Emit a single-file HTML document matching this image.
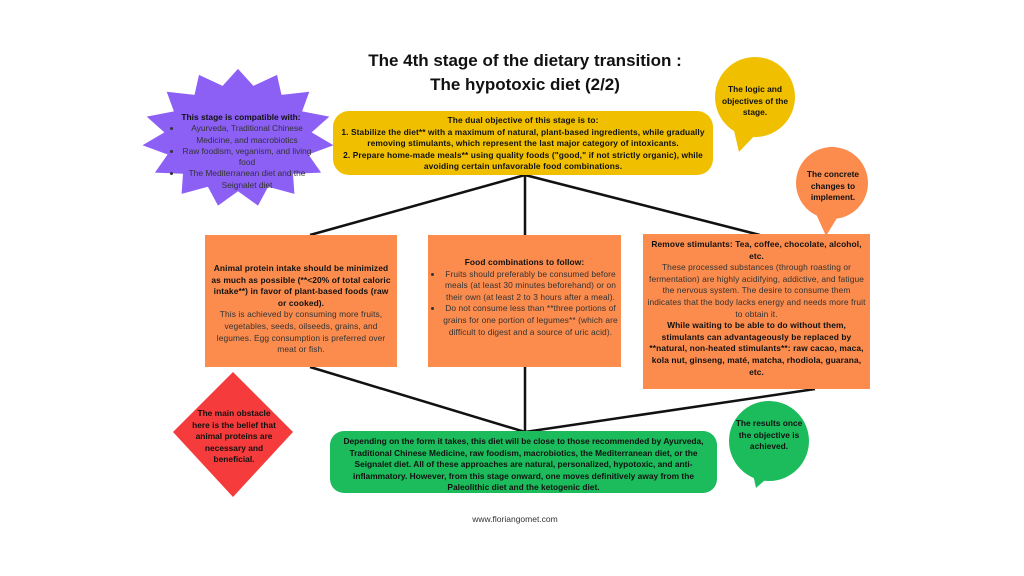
<!DOCTYPE html>
<html><head><meta charset="utf-8"><style>
body{margin:0;width:1024px;height:576px;background:#fff;position:relative;overflow:hidden;font-family:"Liberation Sans",sans-serif;color:#333}
.a{position:absolute;box-sizing:border-box;text-align:center}
.t{font-size:8.4px;line-height:11.6px;letter-spacing:0.1px}
b{color:#111}
ul{margin:0;padding-left:12px;text-align:center}
li{margin:0}
</style></head><body>
<svg class="a" style="left:0;top:0" width="1024" height="576">
<g stroke="#111" stroke-width="2.5" fill="none">
<line x1="525" y1="175" x2="310" y2="235"/><line x1="525" y1="175" x2="525" y2="235"/><line x1="525" y1="175" x2="760" y2="235"/>
<line x1="310" y1="367" x2="525" y2="432"/><line x1="525" y1="367" x2="525" y2="432"/><line x1="815" y1="389" x2="525" y2="432"/>
</g>
<polygon id="star" fill="#8c5ff5" points=""/>
<circle cx="755" cy="97" r="40" fill="#f0c000"/><polygon points="732,122 758,132 739,152" fill="#f0c000"/>
<circle cx="832" cy="183" r="36" fill="#fb8c4e"/><polygon points="812,205 845,205 826,236" fill="#fb8c4e"/>
<circle cx="769" cy="441" r="40" fill="#1cbc5c"/><polygon points="750,460 782,465 756,488" fill="#1cbc5c"/>
<polygon points="233,372 293,432 233,497 173,432" fill="#f53b3b"/>
</svg>
<script>
(function(){var p=[],n=15,cx=238,cy=138,R=96,r=74;for(var i=0;i<2*n;i++){var a=Math.PI*i/n-Math.PI/2,rr=i%2?r:R;p.push((cx+rr*Math.cos(a)).toFixed(1)+","+(cy+rr*Math.sin(a)*0.72).toFixed(1));}document.getElementById('star').setAttribute('points',p.join(' '));})();
</script>
<div class="a" style="left:300px;top:49px;width:450px;font-size:17px;line-height:24px;font-weight:bold;color:#111">The 4th stage of the dietary transition :<br>The hypotoxic diet (2/2)</div>
<div class="a t" style="left:170px;top:112px;width:142px;line-height:11.3px;letter-spacing:0"><b>This stage is compatible with:</b><ul><li>Ayurveda, Traditional Chinese Medicine, and macrobiotics</li><li>Raw foodism, veganism, and living food</li><li>The Mediterranean diet and the Seignalet diet</li></ul></div>
<div class="a t" style="left:333px;top:111px;width:380px;height:64px;background:#f0c000;border-radius:16px;padding:4px 6px 0;font-weight:bold;color:#111">The dual objective of this stage is to:<br>1. Stabilize the diet** with a maximum of natural, plant-based ingredients, while gradually removing stimulants, which represent the last major category of intoxicants.<br>2. Prepare home-made meals** using quality foods ("good," if not strictly organic), while avoiding certain unfavorable food combinations.</div>
<div class="a t" style="left:718px;top:84px;width:74px;font-weight:bold;color:#111;letter-spacing:0">The logic and objectives of the stage.</div>
<div class="a t" style="left:800px;top:169px;width:66px;font-weight:bold;color:#111;letter-spacing:0">The concrete changes to implement.</div>
<div class="a t" style="left:205px;top:235px;width:192px;height:132px;background:#fb8c4e;padding:28px 4px 0"><b>Animal protein intake should be minimized as much as possible (**&lt;20% of total caloric intake**) in favor of plant-based foods (raw or cooked).</b><br>This is achieved by consuming more fruits, vegetables, seeds, oilseeds, grains, and legumes. Egg consumption is preferred over meat or fish.</div>
<div class="a t" style="left:428px;top:235px;width:193px;height:132px;background:#fb8c4e;padding:22px 3px 0"><b>Food combinations to follow:</b><ul><li>Fruits should preferably be consumed before meals (at least 30 minutes beforehand) or on their own (at least 2 to 3 hours after a meal).</li><li>Do not consume less than **three portions of grains for one portion of legumes** (which are difficult to digest and a source of uric acid).</li></ul></div>
<div class="a t" style="left:643px;top:234px;width:227px;height:155px;background:#fb8c4e;padding:5px 4px 0"><b>Remove stimulants: Tea, coffee, chocolate, alcohol, etc.</b><br>These processed substances (through roasting or fermentation) are highly acidifying, addictive, and fatigue the nervous system. The desire to consume them indicates that the body lacks energy and needs more fruit to obtain it.<br><b>While waiting to be able to do without them, stimulants can advantageously be replaced by **natural, non-heated stimulants**: raw cacao, maca, kola nut, ginseng, maté, matcha, rhodiola, guarana, etc.</b></div>
<div class="a t" style="left:192px;top:408px;width:84px;font-weight:bold;color:#111;letter-spacing:0">The main obstacle here is the belief that animal proteins are necessary and beneficial.</div>
<div class="a t" style="left:330px;top:431px;width:387px;height:62px;background:#1cbc5c;border-radius:14px;padding:5px 4px 0;font-weight:bold;color:#111;letter-spacing:0">Depending on the form it takes, this diet will be close to those recommended by Ayurveda, Traditional Chinese Medicine, raw foodism, macrobiotics, the Mediterranean diet, or the Seignalet diet. All of these approaches are natural, personalized, hypotoxic, and anti-inflammatory. However, from this stage onward, one moves definitively away from the Paleolithic diet and the ketogenic diet.</div>
<div class="a t" style="left:734px;top:418px;width:70px;font-weight:bold;color:#111;letter-spacing:0">The results once the objective is achieved.</div>
<div class="a" style="left:415px;top:514px;width:200px;font-size:8.5px">www.floriangomet.com</div>
</body></html>
